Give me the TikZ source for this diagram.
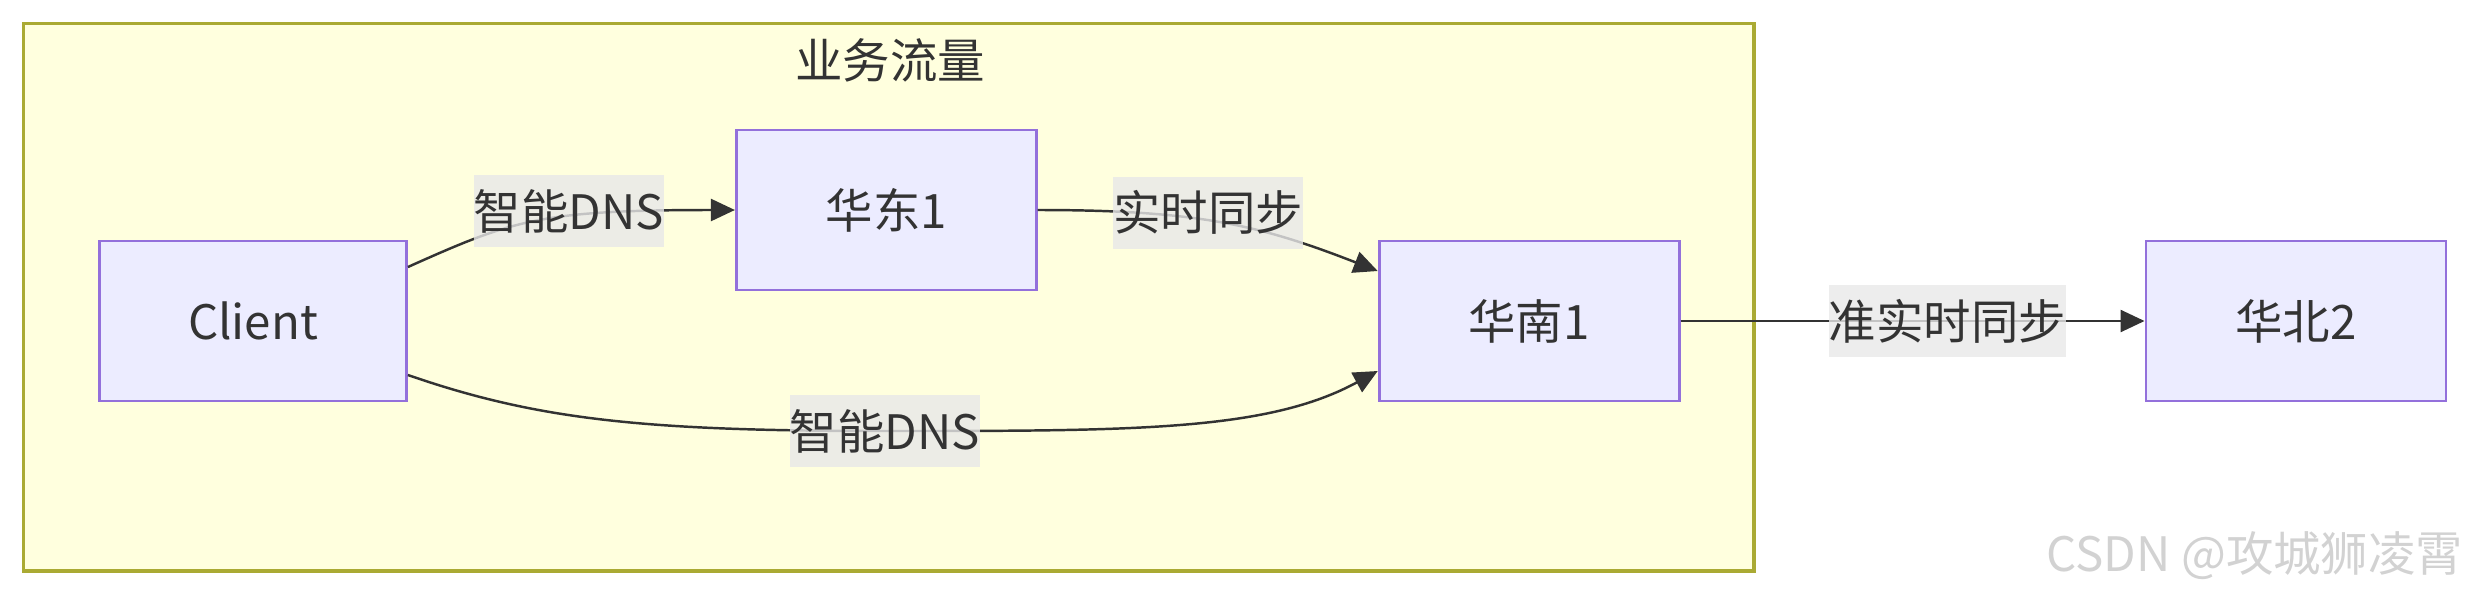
\documentclass[tikz,border=0pt]{standalone}
\usepackage{fontspec}
\setmainfont{Noto Sans CJK SC}
\usetikzlibrary{arrows.meta, positioning}
\definecolor{nodefill}{RGB}{236,236,255}
\definecolor{nodeline}{RGB}{147,112,219}
\definecolor{zonefill}{RGB}{255,255,222}
\definecolor{zoneline}{RGB}{170,170,51}
\definecolor{linkcolor}{RGB}{51,51,51}
\definecolor{labelgray}{RGB}{232,232,232}

\begin{document}
\begin{tikzpicture}[regionnode/.style={fill=nodefill, draw=nodeline, line width=0.8pt, minimum width=30mm, minimum height=16mm, text=linkcolor, font=\fontsize{13.5}{16}\selectfont}, linklabel/.style={fill=labelgray, fill opacity=0.8, text opacity=1, inner xsep=0pt, inner ysep=0pt, minimum height=7.2mm, text=linkcolor, font=\fontsize{13.5}{16}\selectfont}, link/.style={draw=linkcolor, line width=0.7pt, -{Triangle[length=2.4mm, width=2.2mm]}},]

    \useasboundingbox (0,0) rectangle (24.70,-5.97);

    % business traffic zone
    \draw[fill=zonefill, draw=zoneline, line width=0.9pt] (0.236,-0.236) rectangle (17.54,-5.71);
    \node[text=linkcolor, font=\fontsize{13.5}{16}\selectfont] (zonetitle) at (8.90,-0.60) {业务流量};

    \node[regionnode, minimum width=30.7mm] (client) at (2.53,-3.21) {Client};
    \node[regionnode, right=3.27cm of client, yshift=1.11cm] (huadong) {华东1};
    \node[regionnode, right=3.40cm of huadong, yshift=-1.11cm] (huanan) {华南1};
    \node[regionnode, right=4.64cm of huanan] (huabei) {华北2};

    \coordinate (lowdip) at (8.85,-4.31);

    \draw[link] ([yshift=5.4mm]client.east) .. controls +(1.05,0.47) and +(-1.95,0) .. (huadong.west) node[linklabel, pos=0.61, yshift=0.5mm]{智能DNS};
    \draw[link] (huadong.east) .. controls +(1.6,0) and +(-1.18,0.46) .. ([yshift=5mm]huanan.west) node[linklabel, pos=0.45, yshift=0.8mm]{实时同步};
    \draw[link] ([yshift=-5.4mm]client.east) .. controls +(1.3,-0.45) and +(-2.4,0) .. (lowdip) node[linklabel]{智能DNS}
        .. controls +(2.5,0) and +(-1.1,-0.6) .. ([yshift=-5mm]huanan.west);
    \draw[link] (huanan) -- node[linklabel, pos=0.575]{准实时同步} (huabei);

    \node[anchor=east, inner sep=0pt, text=gray!35, font=\fontsize{13.5}{16}\selectfont] (mark) at (24.64,-5.56) {CSDN @攻城狮凌霄};

\end{tikzpicture}
\end{document}
